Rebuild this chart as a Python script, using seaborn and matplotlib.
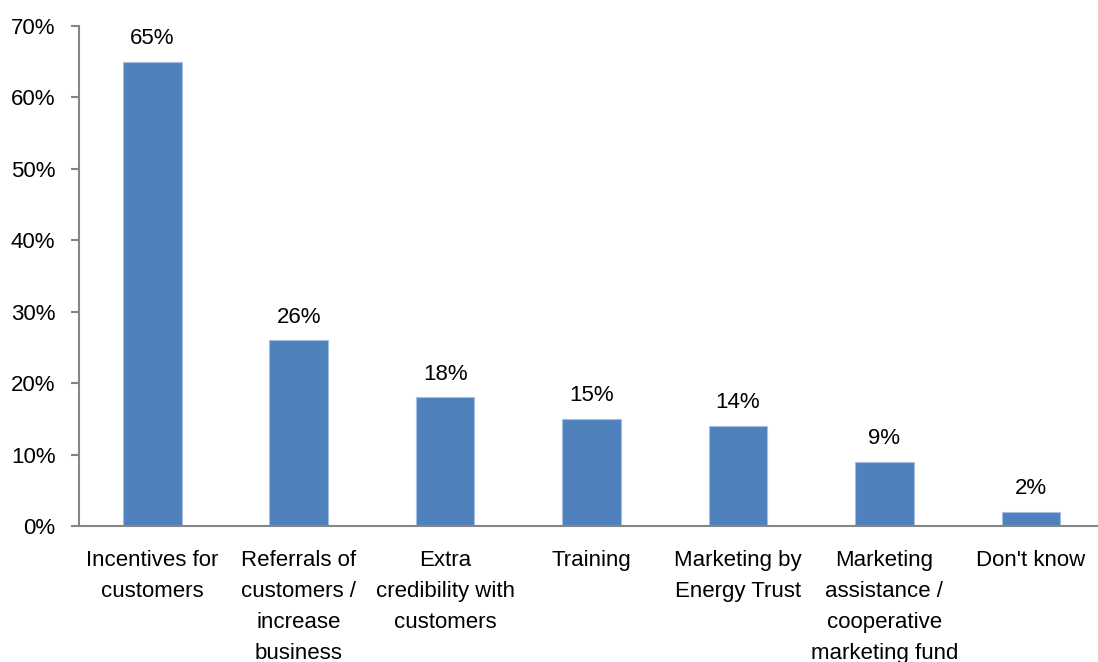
import matplotlib
matplotlib.use("Agg")
import matplotlib.pyplot as plt
import seaborn as sns
import pandas as pd

categories = [
    "Incentives for\ncustomers",
    "Referrals of\ncustomers /\nincrease\nbusiness",
    "Extra\ncredibility with\ncustomers",
    "Training",
    "Marketing by\nEnergy Trust",
    "Marketing\nassistance /\ncooperative\nmarketing fund",
    "Don't know",
]
values = [65, 26, 18, 15, 14, 9, 2]
y_ticks = [0, 10, 20, 30, 40, 50, 60, 70]

sns.set_theme(style="white")
plt.rcParams["font.family"] = ["Liberation Sans", "DejaVu Sans"]

df = pd.DataFrame({"category": categories, "value": values})

fig = plt.figure(figsize=(10.98, 6.62), dpi=100)
ax = fig.add_axes([79 / 1098, 136 / 662, (1104 - 79) / 1098, 500 / 662])

sns.barplot(data=df, x="category", y="value", color="#4F81BD", width=0.4,
            edgecolor="#A7BFDE", linewidth=0.8, saturation=1, ax=ax)

ax.set_ylim(0, 70)
ax.set_xlim(-0.5, len(categories) - 0.5)
ax.set_yticks(y_ticks)
ax.set_yticklabels([f"{t}%" for t in y_ticks])
ax.set_xlabel("")
ax.set_ylabel("")

axis_color = "#868686"
for side in ["top", "right"]:
    ax.spines[side].set_visible(False)
for side in ["left", "bottom"]:
    ax.spines[side].set_color(axis_color)
    ax.spines[side].set_linewidth(1.5)

label_size = 16
ax.set_xticks([i - 0.5 for i in range(len(categories) + 1)], minor=True)
ax.tick_params(axis="x", which="major", length=0, pad=17, labelsize=label_size, colors="black")
ax.tick_params(axis="x", which="minor", length=7, width=1.5, color=axis_color, direction="out")
ax.tick_params(axis="y", length=6, width=1.5, color=axis_color, direction="out",
               labelsize=label_size, labelcolor="black", left=True, pad=11)
for lbl in ax.get_xticklabels():
    lbl.set_linespacing(1.63)
    lbl.set_verticalalignment("top")

for i, v in enumerate(values):
    ax.annotate(f"{v}%", xy=(i, v), xytext=(0, 9), textcoords="offset points",
                ha="center", va="bottom", fontsize=label_size, color="black")

fig.savefig("out.png", dpi=100)
